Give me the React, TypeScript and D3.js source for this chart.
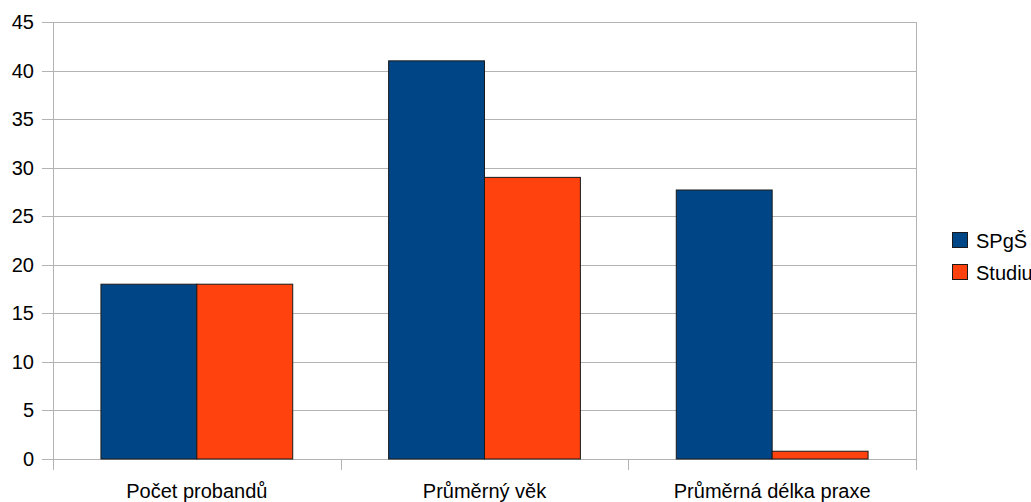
import React, { useEffect, useRef } from "react";
import * as d3 from "d3";

// data
const categories = ["Počet probandů", "Průměrný věk", "Průměrná délka praxe"];
const seriesNames = ["SPgŠ", "Studium"];
const spgsValues = [18, 41, 27.7];
const studiumValues = [18, 29, 0.8];
const yTicks = [0, 5, 10, 15, 20, 25, 30, 35, 40, 45];
const colors = ["#004586", "#ff420e"];

const W = 1031;
const H = 502;

export default function App() {
  const ref = useRef<SVGSVGElement>(null);

  useEffect(() => {
    const svg = d3.select(ref.current);
    svg.selectAll("*").remove();

    const margin = { left: 53, right: W - 916, top: 22, bottom: H - 459 };
    const font = "'Liberation Sans', Arial, sans-serif";

    const x0 = d3
      .scaleBand()
      .domain(categories)
      .range([margin.left, W - margin.right])
      .padding(0);
    const bw = x0.bandwidth();
    const x1 = d3
      .scaleBand()
      .domain(seriesNames)
      .range([bw / 6, (bw * 5) / 6])
      .padding(0);
    const y = d3
      .scaleLinear()
      .domain([0, 45])
      .range([H - margin.bottom, margin.top]);

    const g = svg.append("g");

    // grid lines
    g.selectAll("line.grid")
      .data(yTicks)
      .enter()
      .append("line")
      .attr("class", "grid")
      .attr("x1", margin.left - 11)
      .attr("x2", W - margin.right)
      .attr("y1", (d) => Math.round(y(d)) + 0.5)
      .attr("y2", (d) => Math.round(y(d)) + 0.5)
      .attr("stroke", "#b3b3b3")
      .attr("stroke-width", 1);

    // left axis line + right border
    g.append("line")
      .attr("x1", margin.left + 0.5)
      .attr("x2", margin.left + 0.5)
      .attr("y1", y(45))
      .attr("y2", y(0) + 11)
      .attr("stroke", "#b3b3b3");
    g.append("line")
      .attr("x1", W - margin.right + 0.5)
      .attr("x2", W - margin.right + 0.5)
      .attr("y1", y(45))
      .attr("y2", y(0) + 11)
      .attr("stroke", "#b3b3b3");

    // category ticks
    const bounds = categories.map((c) => x0(c) as number);
    g.selectAll("line.ctick")
      .data(bounds.slice(1))
      .enter()
      .append("line")
      .attr("class", "ctick")
      .attr("x1", (d) => Math.round(d) + 0.5)
      .attr("x2", (d) => Math.round(d) + 0.5)
      .attr("y1", y(0))
      .attr("y2", y(0) + 11)
      .attr("stroke", "#b3b3b3");

    // y labels
    g.selectAll("text.ylab")
      .data(yTicks)
      .enter()
      .append("text")
      .attr("class", "ylab")
      .attr("x", 34)
      .attr("y", (d) => y(d) + 7)
      .attr("text-anchor", "end")
      .style("font-family", font)
      .style("font-size", "20px")
      .style("fill", "#000")
      .text((d) => d);

    // bars
    const rows = categories.map((c, i) => ({
      cat: c,
      vals: [spgsValues[i], studiumValues[i]],
    }));
    const grp = g
      .selectAll("g.cat")
      .data(rows)
      .enter()
      .append("g")
      .attr("transform", (d) => `translate(${x0(d.cat)},0)`);
    grp
      .selectAll("rect")
      .data((d) => d.vals.map((v, j) => ({ v, s: seriesNames[j], j })))
      .enter()
      .append("rect")
      .attr("x", (d) => x1(d.s) as number)
      .attr("y", (d) => y(d.v))
      .attr("width", x1.bandwidth())
      .attr("height", (d) => y(0) - y(d.v))
      .attr("fill", (d) => colors[d.j])
      .attr("stroke", "#1a1a1a")
      .attr("stroke-width", 1);

    // category labels
    g.selectAll("text.xlab")
      .data(categories)
      .enter()
      .append("text")
      .attr("class", "xlab")
      .attr("x", (d) => (x0(d) as number) + bw / 2)
      .attr("y", 498)
      .attr("text-anchor", "middle")
      .style("font-family", font)
      .style("font-size", "20px")
      .style("fill", "#000")
      .text((d) => d);

    // legend
    const leg = g
      .selectAll("g.leg")
      .data(seriesNames)
      .enter()
      .append("g")
      .attr("transform", (d, i) => `translate(952,${232 + i * 32})`);
    leg
      .append("rect")
      .attr("x", 0.5)
      .attr("y", 0.5)
      .attr("width", 15)
      .attr("height", 15)
      .attr("fill", (d, i) => colors[i])
      .attr("stroke", "#1a1a1a");
    leg
      .append("text")
      .attr("x", 24)
      .attr("y", 16)
      .style("font-family", font)
      .style("font-size", "20px")
      .style("fill", "#000")
      .text((d) => d);
  }, []);

  return (
    <div style={{ position: "absolute", left: 0, top: 0, width: W, height: H, overflow: "hidden", background: "#fff" }}>
      <svg ref={ref} width={W} height={H} />
    </div>
  );
}
